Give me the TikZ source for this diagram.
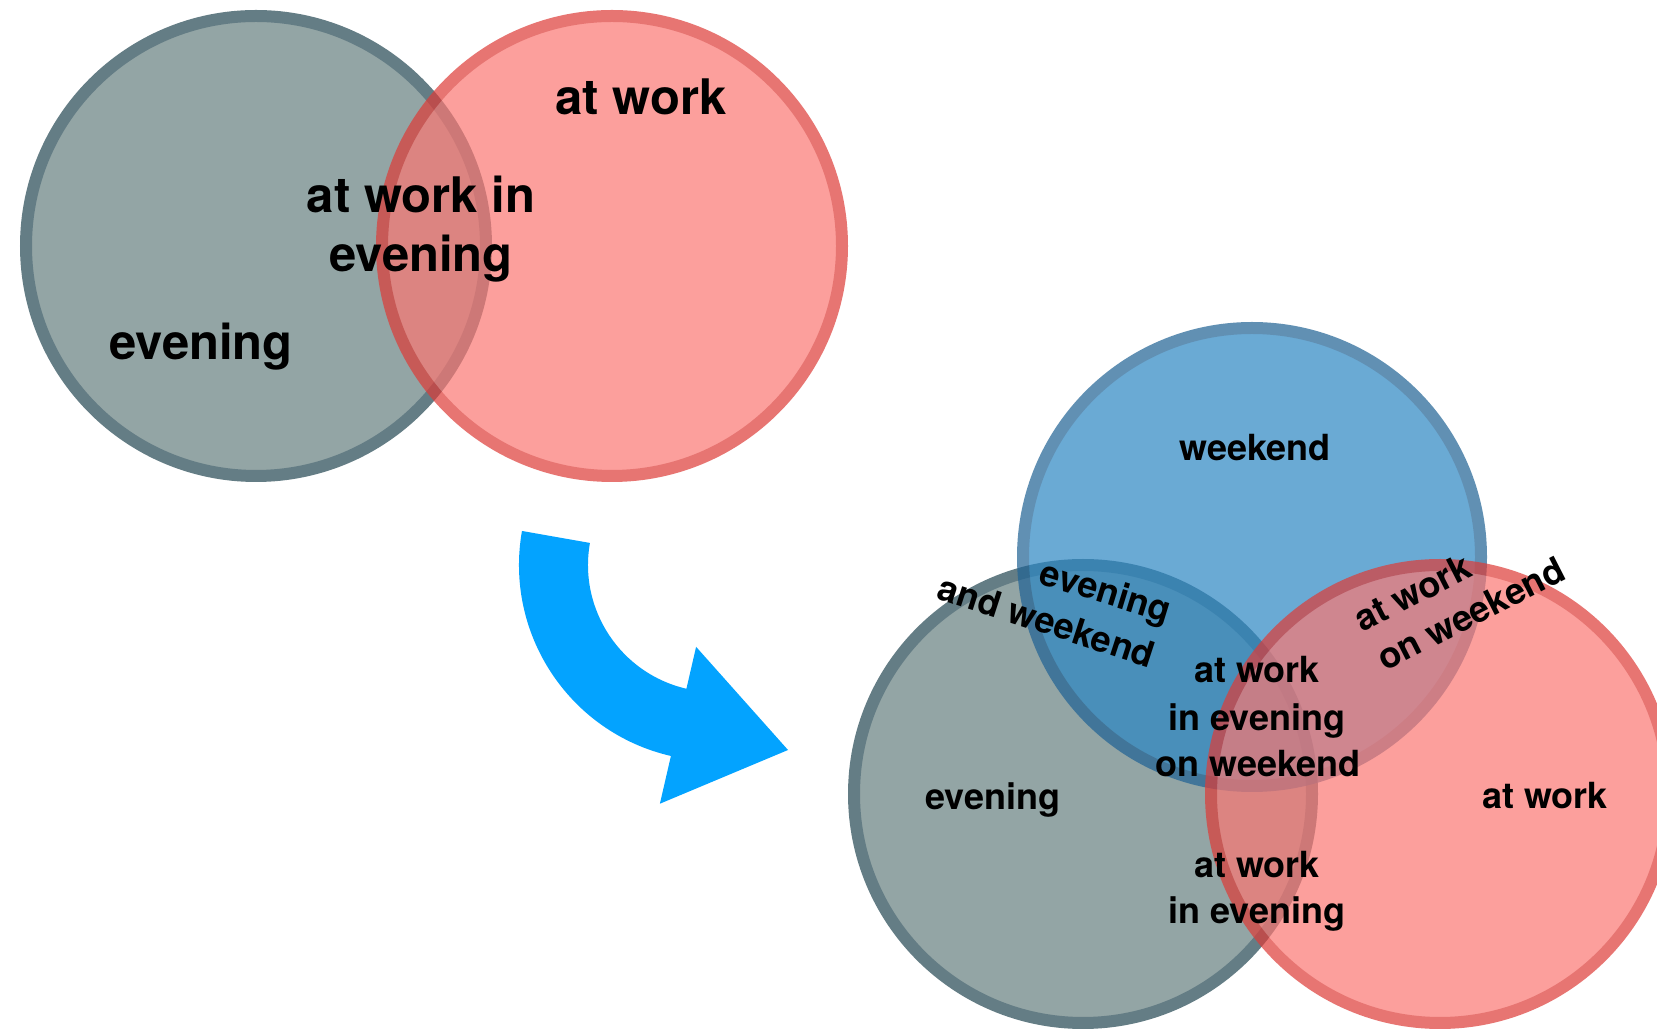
\documentclass[tikz,border=0pt]{standalone}
\usepackage{fontspec}
\setsansfont{TeX Gyre Heros}
\renewcommand{\familydefault}{\sfdefault}
\usetikzlibrary{calc}
\definecolor{greyfill}{RGB}{147,165,165}
\definecolor{greyline}{RGB}{100,125,133}
\definecolor{redfill}{RGB}{251,119,114}
\definecolor{redline}{RGB}{222,59,55}
\definecolor{bluefill}{RGB}{43,134,195}
\definecolor{blueline}{RGB}{31,98,148}
\definecolor{arrowblue}{RGB}{3,163,255}
\begin{document}
\begin{tikzpicture}[x=1pt,y=1pt,
  lbig/.style={font=\fontsize{49}{58}\selectfont\bfseries, inner sep=0pt, anchor=base},
  lsmall/.style={font=\fontsize{36}{44}\selectfont\bfseries, inner sep=0pt, anchor=base},
  greyset/.style={fill=greyfill, draw=greyline, line width=12pt},
  redset/.style={fill=redfill, draw=redline, line width=12pt},
  blueset/.style={fill=bluefill, draw=blueline, line width=12pt},
  seethrough/.style={transparency group, opacity=0.7}]
\clip (0,0) rectangle (1657,1028);
\fill[white] (0,0) rectangle (1657,1028);

% ---- top diagram ----
\filldraw[greyset] (256,782) circle[radius=230pt];
\begin{scope}[seethrough]
  \filldraw[redset] (612,782) circle[radius=230pt];
\end{scope}
\node[lbig] (tw) at (641,913) {at work};
\node[lbig] (twe1) at (421,815) {at work in};
\node[lbig] (twe2) at (421,756) {evening};
\node[lbig] (te) at (201,668) {evening};

% ---- arrow ----
\coordinate (ac) at (715,463);
\coordinate (tip) at (788,278);
\fill[arrowblue] ($(ac)+(170:196)$) arc[start angle=170,end angle=257,radius=196pt]
  -- ($(ac)+(257:245)$) -- (tip) -- ($(ac)+(257:84)$) -- ($(ac)+(257:127)$)
  arc[start angle=257,end angle=170,radius=127pt] -- cycle;

% ---- bottom diagram ----
\filldraw[greyset] (1083,234) circle[radius=229pt];
\begin{scope}[seethrough]
  \filldraw[blueset] (1252,471) circle[radius=229pt];
\end{scope}
\begin{scope}[seethrough]
  \filldraw[redset] (1440,234) circle[radius=229pt];
\end{scope}

\node[lsmall] (bw) at (1255,567) {weekend};
\node[lsmall] (all1) at (1257,345) {at work};
\node[lsmall] (all2) at (1257,297) {in evening};
\node[lsmall] (all3) at (1258,251) {on weekend};
\node[lsmall] (be) at (993,218) {evening};
\node[lsmall] (ba) at (1545,219) {at work};
\node[lsmall] (bae1) at (1257,150) {at work};
\node[lsmall] (bae2) at (1257,104) {in evening};
\node[lsmall, anchor=base east, rotate=-17] (ew1) at (1167,405) {evening};
\node[lsmall, anchor=base east, rotate=-18] (ew2) at (1150,360) {and weekend};
\node[lsmall, anchor=base west, rotate=27] (aw1) at (1362,395) {at work};
\node[lsmall, anchor=base west, rotate=27] (aw2) at (1385,356) {on weekend};
\end{tikzpicture}
\end{document}
